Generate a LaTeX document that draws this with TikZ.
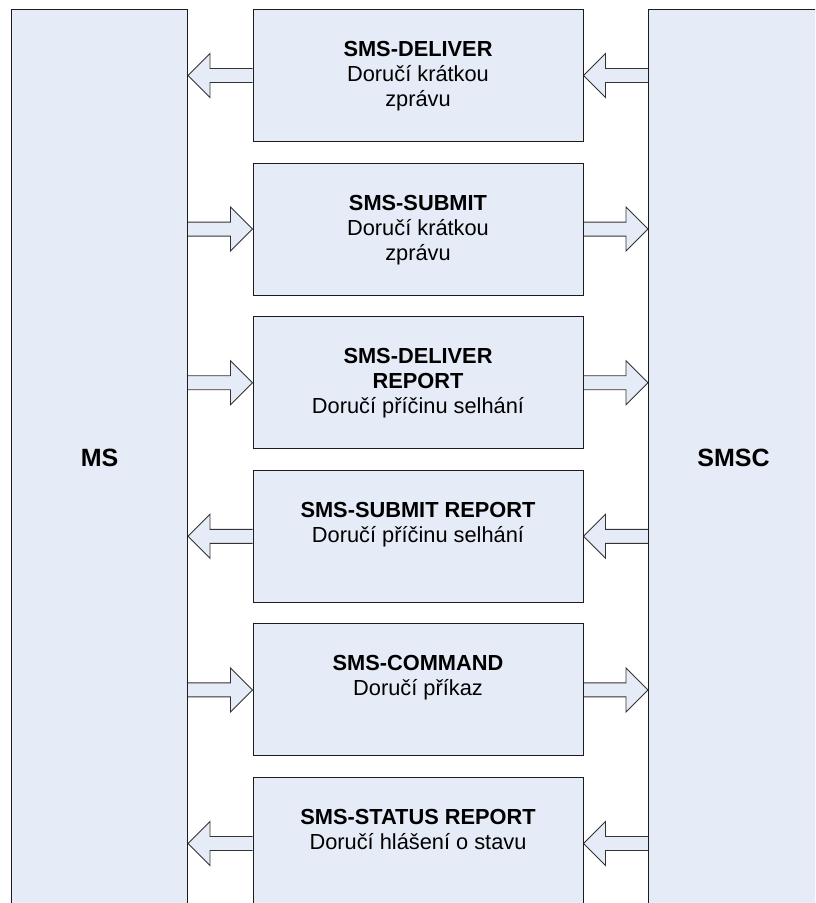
\documentclass[tikz,border=0pt]{standalone}
\usepackage{fontspec}
\setmainfont{Liberation Sans}
\usetikzlibrary{calc,backgrounds}
\definecolor{panel}{RGB}{230,236,247}
\definecolor{edge}{RGB}{28,28,28}
\tikzset{
  bigbox/.style={draw=edge, fill=panel, line width=1pt, inner sep=0pt,
    anchor=north west, font=\bfseries\fontsize{25}{30}\selectfont},
  msgbox/.style={draw=edge, fill=panel, line width=1pt, inner sep=0pt,
    minimum width=330pt, minimum height=132pt, anchor=north},
  msgtext/.style={anchor=north, align=center, inner sep=0pt,
    font=\fontsize{21.8}{25}\selectfont},
  blockarrow/.style={draw=edge!90, fill=panel, line width=0.9pt, line join=miter},
}
% hollow block arrow from tail point #1 to tip point #2 (horizontal)
\newcommand\blockarr[2]{%
  \draw[blockarrow] let \p1=(#1), \p2=(#2), \p3=($(#2)!22pt!(#1)$) in
    (\x1,\y1+7pt) -- (\x3,\y1+7pt) -- (\x3,\y1+22pt) -- (\x2,\y2)
    -- (\x3,\y1-22pt) -- (\x3,\y1-7pt) -- (\x1,\y1-7pt);}
\begin{document}
\begin{tikzpicture}[x=1pt,y=-1pt]
\useasboundingbox (0,0) rectangle (815,903);
\clip (0,0) rectangle (815,903);

% end points
\node[bigbox, minimum width=176pt, minimum height=896pt] (ms) at (11,9) {MS};
\node[bigbox, minimum width=170pt, minimum height=896pt] (smsc) at (648,9) {SMSC};

% message types
\node[msgbox] (b1) at (418,9) {};
\node[msgbox] (b2) at (418,162.6) {};
\node[msgbox] (b3) at (418,316.2) {};
\node[msgbox] (b4) at (418,469.8) {};
\node[msgbox] (b5) at (418,623.4) {};
\node[msgbox] (b6) at (418,777) {};

\node[msgtext] (t1) at ([yshift=-32pt]b1.north) {\textbf{SMS-DELIVER}\\Doručí krátkou\\zprávu};
\node[msgtext] (t2) at ([yshift=-32pt]b2.north) {\textbf{SMS-SUBMIT}\\Doručí krátkou\\zprávu};
\node[msgtext] (t3) at ([yshift=-32pt]b3.north) {\textbf{SMS-DELIVER}\\\textbf{REPORT}\\Doručí příčinu selhání};
\node[msgtext] (t4) at ([yshift=-32pt]b4.north) {\textbf{SMS-SUBMIT REPORT}\\Doručí příčinu selhání};
\node[msgtext] (t5) at ([yshift=-32pt]b5.north) {\textbf{SMS-COMMAND}\\Doručí příkaz};
\node[msgtext] (t6) at ([yshift=-32pt]b6.north) {\textbf{SMS-STATUS REPORT}\\Doručí hlášení o stavu};

\begin{scope}[on background layer]
  % SMSC -> MS
  \blockarr{b1.west}{ms.east |- b1.west}
  \blockarr{smsc.west |- b1.east}{b1.east}
  % MS -> SMSC
  \blockarr{ms.east |- b2.west}{b2.west}
  \blockarr{b2.east}{smsc.west |- b2.east}
  \blockarr{ms.east |- b3.west}{b3.west}
  \blockarr{b3.east}{smsc.west |- b3.east}
  % SMSC -> MS
  \blockarr{b4.west}{ms.east |- b4.west}
  \blockarr{smsc.west |- b4.east}{b4.east}
  % MS -> SMSC
  \blockarr{ms.east |- b5.west}{b5.west}
  \blockarr{b5.east}{smsc.west |- b5.east}
  % SMSC -> MS
  \blockarr{b6.west}{ms.east |- b6.west}
  \blockarr{smsc.west |- b6.east}{b6.east}
\end{scope}
\end{tikzpicture}
\end{document}
